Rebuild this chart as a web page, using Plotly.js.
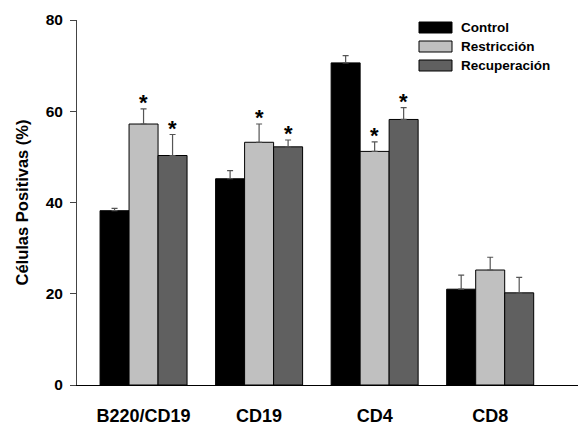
<!DOCTYPE html>
<html><head><meta charset="utf-8">
<script src="https://cdn.plot.ly/plotly-3.0.1.min.js"></script>
<style>html,body{margin:0;padding:0;background:#fff}#c{width:578px;height:426px}</style>
</head><body><div id="c"></div>
<script>
var categories = ["B220/CD19", "CD19", "CD4", "CD8"];
var seriesNames = ["Control", "Restricción", "Recuperación"];
var control = [38.2, 45.2, 70.6, 21.0];
var restriccion = [57.2, 53.2, 51.2, 25.2];
var recuperacion = [50.3, 52.2, 58.2, 20.2];
var errControl = [0.5, 1.8, 1.6, 3.1];
var errRestriccion = [3.3, 4.0, 2.1, 2.8];
var errRecuperacion = [4.6, 1.5, 2.6, 3.4];
var sigControl = [false, false, false, false];
var sigRestriccion = [true, true, true, false];
var sigRecuperacion = [true, true, true, false];
var yTicks = [0, 20, 40, 60, 80];

var colors = ["#000000", "#c0c0c0", "#606060"];
var values = [control, restriccion, recuperacion];
var errs = [errControl, errRestriccion, errRecuperacion];
var sigs = [sigControl, sigRestriccion, sigRecuperacion];
var F = "Liberation Sans, Arial, sans-serif";

var bargap = 0.247;
var barW = (1 - bargap) / 3;
var idx = categories.map(function(_, i){ return i; });

var traces = values.map(function(v, s){
  return {
    type: "bar", x: idx, y: v, name: seriesNames[s],
    marker: {color: colors[s], line: {color: "#000", width: 1}},
    error_y: {type: "data", array: errs[s], arrayminus: errs[s].map(function(){return 0;}), symmetric: false,
              color: "#555", thickness: 1.2, width: 3},
    showlegend: false, hoverinfo: "none"
  };
});

var annotations = [];
values.forEach(function(v, s){
  v.forEach(function(val, i){
    if (sigs[s][i]) {
      annotations.push({x: i + (s - 1) * barW, y: val + errs[s][i], xref: "x", yref: "y",
        text: "<b>*</b>", showarrow: false, yanchor: "bottom", yshift: -8,
        font: {family: F, size: 22, color: "#000"}});
    }
  });
});

// custom legend
var L = 77, W = 501, B = 385, H = 365;
function px(x){ return (x - L) / W; }
function py(y){ return (B - y) / H; }
var shapes = [];
seriesNames.forEach(function(n, s){
  var top = 22 + s * 19;
  shapes.push({type: "rect", xref: "paper", yref: "paper", x0: px(419), x1: px(452), y0: py(top + 11), y1: py(top),
    fillcolor: colors[s], line: {color: "#000", width: 1}});
  annotations.push({xref: "paper", yref: "paper", x: px(459), y: py(top + 5.5), text: "<b>" + n + "</b>",
    showarrow: false, xanchor: "left", yanchor: "middle", font: {family: F, size: 13.5, color: "#000"}});
});

var layout = {
  width: 578, height: 426,
  margin: {l: 77, r: 0, t: 20, b: 41, pad: 0},
  paper_bgcolor: "#fff", plot_bgcolor: "#fff",
  barmode: "group", bargap: bargap, bargroupgap: 0,
  font: {family: F, color: "#000"},
  xaxis: {range: [-0.576, 3.76], tickvals: idx, ticktext: categories.map(function(c){return "<b>"+c+"</b>";}),
    showline: true, linecolor: "#000", linewidth: 1, ticks: "", showgrid: false, zeroline: false,
    tickfont: {family: F, size: 18, color: "#000"}, ticklabelstandoff: 14},
  yaxis: {range: [0, 80], tickvals: yTicks, ticktext: yTicks.map(function(t){return "<b>"+t+"</b>";}),
    showline: true, linecolor: "#444", linewidth: 1, ticks: "outside", ticklen: 6, tickcolor: "#444",
    showgrid: false, zeroline: false, tickfont: {family: F, size: 15.5, color: "#000"}, ticklabelstandoff: 4,
    title: {text: "<b>Células Positivas (%)</b>", font: {family: F, size: 16.5, color: "#000"}, standoff: 12}},
  annotations: annotations, shapes: shapes
};
Plotly.newPlot("c", traces, layout, {displayModeBar: false, staticPlot: true});
</script></body></html>
